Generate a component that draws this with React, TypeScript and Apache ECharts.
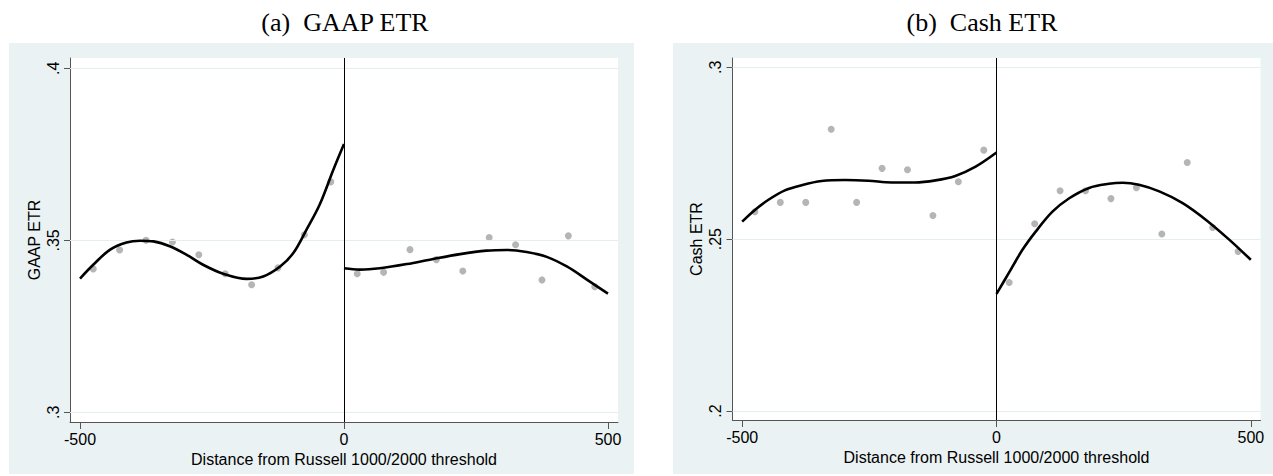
import React, { useEffect, useRef } from "react";
import * as echarts from "echarts";

// ---------- data ----------
const binsLeft = [-475, -425, -375, -325, -275, -225, -175, -125, -75, -25];
const binsRight = [25, 75, 125, 175, 225, 275, 325, 375, 425, 475];

const gaapLeftDots = [0.3417, 0.3472, 0.35, 0.3495, 0.3458, 0.3403, 0.3371, 0.342, 0.3516, 0.367];
const gaapRightDots = [0.3403, 0.3407, 0.3473, 0.3444, 0.3411, 0.3508, 0.3487, 0.3385, 0.3513, 0.3365];
const cashLeftDots = [0.258, 0.2607, 0.2607, 0.282, 0.2607, 0.2706, 0.2702, 0.2569, 0.2667, 0.2759];
const cashRightDots = [0.2374, 0.2545, 0.2641, 0.2641, 0.2618, 0.265, 0.2515, 0.2723, 0.2534, 0.2464];

const gaapLeftFit = [
  [-500, 0.3389], [-475, 0.3429], [-443, 0.3473], [-412, 0.3494], [-386, 0.3499],
  [-361, 0.3497], [-330, 0.3483], [-298, 0.3458], [-267, 0.3429], [-229, 0.3403],
  [-184, 0.3388], [-153, 0.3395], [-121, 0.3424], [-96, 0.3463], [-71, 0.3531],
  [-46, 0.3604], [-20, 0.3706], [0, 0.378],
];
const gaapRightFit = [
  [0, 0.3419], [30, 0.3415], [68, 0.3419], [119, 0.3431], [169, 0.3446], [220, 0.346],
  [270, 0.347], [308, 0.3472], [346, 0.3466], [384, 0.3452], [422, 0.3424], [460, 0.3386],
  [500, 0.3345],
];
const cashLeftFit = [
  [-500, 0.2551], [-475, 0.2585], [-449, 0.2614], [-416, 0.2642], [-383, 0.2657],
  [-344, 0.2669], [-298, 0.2672], [-252, 0.267], [-206, 0.2665], [-160, 0.2665],
  [-120, 0.2671], [-81, 0.2684], [-41, 0.2711], [0, 0.2752],
];
const cashRightFit = [
  [0, 0.2341], [24, 0.2401], [51, 0.2469], [77, 0.2522], [110, 0.258], [143, 0.2619],
  [182, 0.2649], [221, 0.2661], [248, 0.2664], [280, 0.2658], [320, 0.2639], [366, 0.2605],
  [412, 0.2556], [458, 0.2498], [500, 0.244],
];

const xTicks = [-500, 0, 500];
const gaapYTicks = [0.3, 0.35, 0.4];
const cashYTicks = [0.2, 0.25, 0.3];

const titles = ["(a)  GAAP ETR", "(b)  Cash ETR"];
const yTitles = ["GAAP ETR", "Cash ETR"];
const xTitle = "Distance from Russell 1000/2000 threshold";

// ---------- styles ----------
const BG = "#eaf2f3";
const GRID_LINE = "#e4edef";
const AXIS_COLOR = "#555";
const DOT = "#a3a3a3";
const SANS = '"Liberation Sans", Arial, sans-serif';
const SERIF = '"Liberation Serif", "Times New Roman", serif';
const FS = 16;

const fmtY = (v: number) => String(Number(v.toFixed(4))).replace(/^0/, "");

function axisPair(gi: number, yMin: number, yMax: number, yTicks: number[]) {
  const xAxis = {
    type: "value",
    gridIndex: gi,
    min: -519,
    max: 519,
    name: xTitle,
    nameLocation: "middle",
    nameGap: 22,
    nameTextStyle: { fontFamily: SANS, fontSize: FS, color: "#000" },
    axisLine: { show: true, onZero: false, lineStyle: { color: AXIS_COLOR, width: 1 } },
    axisTick: { show: true, length: 7, customValues: xTicks, lineStyle: { color: AXIS_COLOR } },
    axisLabel: {
      show: true,
      customValues: xTicks,
      margin: 9,
      fontFamily: SANS,
      fontSize: FS,
      color: "#000",
      formatter: (v: number) => String(v),
    },
    splitLine: { show: false },
  };
  const yAxis = {
    type: "value",
    gridIndex: gi,
    min: yMin,
    max: yMax,
    name: yTitles[gi],
    nameLocation: "middle",
    nameRotate: 90,
    nameGap: 28,
    nameTextStyle: { fontFamily: SANS, fontSize: FS, color: "#000" },
    axisLine: { show: true, onZero: false, lineStyle: { color: AXIS_COLOR, width: 1 } },
    axisTick: { show: true, length: 6, customValues: yTicks, lineStyle: { color: AXIS_COLOR } },
    axisLabel: {
      show: true,
      customValues: yTicks,
      rotate: 90,
      margin: 9,
      fontFamily: SANS,
      fontSize: FS,
      color: "#000",
      formatter: (v: number) => fmtY(v),
    },
    splitLine: { show: false },
  };
  return { xAxis, yAxis };
}

function panelSeries(gi: number, leftDots: number[], rightDots: number[], leftFit: number[][], rightFit: number[][], yTicks: number[]) {
  const dots = [
    ...binsLeft.map((x, i) => [x, leftDots[i]]),
    ...binsRight.map((x, i) => [x, rightDots[i]]),
  ];
  const lineCommon = {
    type: "line",
    xAxisIndex: gi,
    yAxisIndex: gi,
    showSymbol: false,
    symbol: "none",
    smooth: 0.35,
    silent: true,
    lineStyle: { color: "#000", width: 2.6 },
    z: 5,
  };
  return [
    {
      type: "scatter",
      xAxisIndex: gi,
      yAxisIndex: gi,
      data: dots,
      symbolSize: 7,
      itemStyle: { color: DOT },
      silent: true,
      z: 3,
      markLine: {
        silent: true,
        symbol: "none",
        label: { show: false },
        animation: false,
        data: [
          ...yTicks.map((v) => ({ yAxis: v, lineStyle: { color: GRID_LINE, width: 1.2, type: "solid" } })),
          { xAxis: 0, lineStyle: { color: "#000", width: 1, type: "solid" } },
        ],
      },
    },
    { ...lineCommon, data: leftFit },
    { ...lineCommon, data: rightFit },
  ];
}

export default function App() {
  const ref = useRef<HTMLDivElement>(null);
  useEffect(() => {
    if (!ref.current) return;
    const chart = echarts.init(ref.current, undefined, { renderer: "svg" });
    const a = axisPair(0, 0.2972, 0.403, gaapYTicks);
    const b = axisPair(1, 0.1974, 0.3027, cashYTicks);
    chart.setOption({
      animation: false,
      backgroundColor: "transparent",
      grid: [
        { left: 70, top: 58, width: 548, height: 364, show: true, backgroundColor: "#fff", borderWidth: 0 },
        { left: 732.5, top: 58, width: 528, height: 362, show: true, backgroundColor: "#fff", borderWidth: 0 },
      ],
      xAxis: [a.xAxis, b.xAxis],
      yAxis: [a.yAxis, b.yAxis],
      graphic: [
        {
          type: "text",
          x: 345,
          y: 22.5,
          style: { text: titles[0], font: `26px ${SERIF}`, fill: "#000", align: "center", verticalAlign: "middle" },
        },
        {
          type: "text",
          x: 982,
          y: 22.5,
          style: { text: titles[1], font: `26px ${SERIF}`, fill: "#000", align: "center", verticalAlign: "middle" },
        },
      ],
      series: [
        ...panelSeries(0, gaapLeftDots, gaapRightDots, gaapLeftFit, gaapRightFit, gaapYTicks),
        ...panelSeries(1, cashLeftDots, cashRightDots, cashLeftFit, cashRightFit, cashYTicks),
      ],
    });
    return () => chart.dispose();
  }, []);

  return (
    <div style={{ position: "fixed", left: 0, top: 0, width: 1273, height: 476, background: "#fff" }}>
      <div style={{ position: "absolute", left: 8.6, top: 43, width: 625.4, height: 431, background: BG }} />
      <div style={{ position: "absolute", left: 672.7, top: 43, width: 600.3, height: 431, background: BG }} />
      <div ref={ref} style={{ position: "absolute", left: 0, top: 0, width: 1273, height: 476 }} />
    </div>
  );
}
